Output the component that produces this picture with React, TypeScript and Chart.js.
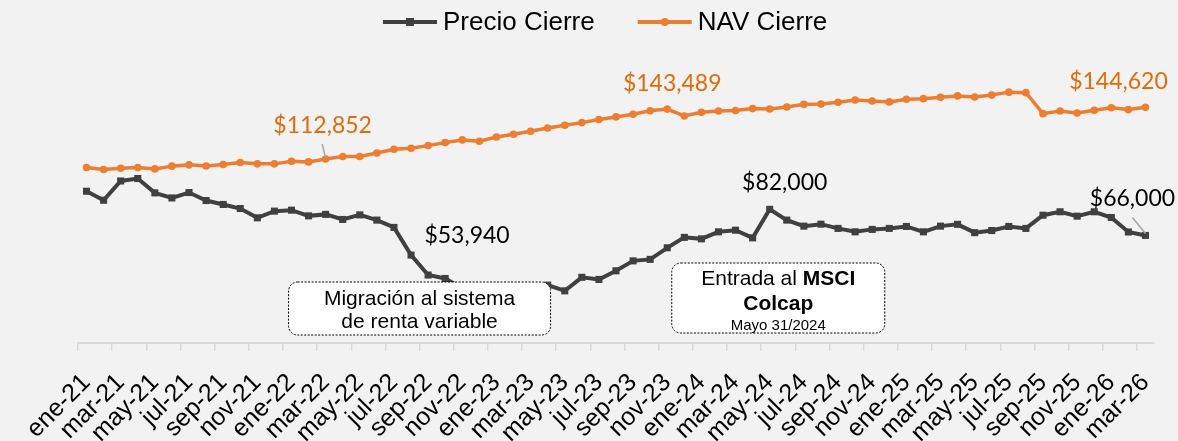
import React, { useEffect, useRef } from 'react';
import { Chart, registerables } from 'chart.js';

Chart.register(...registerables);

// ---------- data ----------
const MONTHS = ['ene', 'feb', 'mar', 'abr', 'may', 'jun', 'jul', 'ago', 'sep', 'oct', 'nov', 'dic'];
const YEARS = ['21', '22', '23', '24', '25', '26'];
const MONTHS_IN_LAST_YEAR = 3;

const categories: string[] = [];
YEARS.forEach((y, yi) => {
  MONTHS.forEach((m, mi) => {
    if (yi < YEARS.length - 1 || mi < MONTHS_IN_LAST_YEAR) categories.push(`${m}-${y}`);
  });
});

const SERIES_NAMES = ['Precio Cierre', 'NAV Cierre'];

const precioCierre = [
  93100, 87600, 99400, 100900, 92100, 89000, 92300, 87400, 85000, 82500, 76800, 80900,
  81500, 78000, 78900, 75800, 78600, 75400, 70900, 53940, 41700, 39600, 33500, 32500,
  32000, 32500, 33500, 35500, 32000, 40300, 39000, 44300, 50400, 51300, 58400, 64800,
  63900, 68200, 69200, 64500, 82000, 75400, 71700, 72900, 70300, 68200, 69700, 70300,
  71500, 68200, 71700, 72800, 67700, 69000, 71500, 70300, 78400, 80500, 77800, 80500,
  77000, 68100, 66000,
];

const navCierre = [
  107700, 106400, 107200, 107700, 106800, 108500, 109300, 108600, 109500, 110700, 109900, 109900,
  111500, 111100, 112852, 114400, 114400, 116600, 118900, 119500, 121100, 123000, 124600, 123800,
  126400, 128100, 129900, 131900, 133600, 135200, 137100, 138700, 140300, 142500, 143489, 139300,
  141500, 142300, 142600, 143800, 143600, 144800, 146400, 146600, 147700, 149100, 148500, 147900,
  149500, 149900, 150700, 151600, 150900, 152100, 153900, 153600, 140700, 142300, 141100, 142800,
  144300, 143200, 144620,
];

// which points carry a value label
const labeledPrecio = [19, 40, 62];
const labeledNav = [14, 34, 62];

const annotationTexts = [
  [[{ t: 'Migración al sistema', b: false }], [{ t: 'de renta variable', b: false }]],
  [
    [{ t: 'Entrada al ', b: false }, { t: 'MSCI', b: true }],
    [{ t: 'Colcap', b: true }],
    [{ t: 'Mayo 31/2024', b: false, small: true }],
  ],
];

// ---------- styling ----------
const PRECIO_COLOR = '#404040';
const NAV_COLOR = '#ED7D31';
const NAV_LABEL_COLOR = '#E36C0A';
const LEADER_COLOR = '#A6A6A6';
const AXIS_FONT = '"Liberation Sans", Arial, sans-serif';
const LABEL_FONT = 'Lato, "Open Sans", sans-serif';

// label offsets (pixels) relative to the point
const precioLabelStyle: Record<number, { dx: number; dy: number; leader?: number[] }> = {
  19: { dx: 56, dy: -12 },
  40: { dx: 15, dy: -19 },
  62: { dx: -13, dy: -29, leader: [-13, -18, 0, -2] },
};
const navLabelStyle: Record<number, { dx: number; dy: number; leader?: number[] }> = {
  14: { dx: -3, dy: -26, leader: [-3.5, -15, 0, -1] },
  34: { dx: 5, dy: -18 },
  62: { dx: -27, dy: -18 },
};

// annotation boxes: centre at category "index", top/height in px
const annotationBoxes = [
  { index: 19.5, width: 262, top: 282, height: 53, baselines: [23, 46] },
  { index: 40.5, width: 213, top: 263, height: 70, baselines: [22, 46.5, 66.5] },
];

const fmt = (v: number) => '$' + v.toLocaleString('en-US');

function roundRect(ctx: CanvasRenderingContext2D, x: number, y: number, w: number, h: number, r: number) {
  ctx.beginPath();
  ctx.moveTo(x + r, y);
  ctx.lineTo(x + w - r, y);
  ctx.arcTo(x + w, y, x + w, y + r, r);
  ctx.lineTo(x + w, y + h - r);
  ctx.arcTo(x + w, y + h, x + w - r, y + h, r);
  ctx.lineTo(x + r, y + h);
  ctx.arcTo(x, y + h, x, y + h - r, r);
  ctx.lineTo(x, y + r);
  ctx.arcTo(x, y, x + r, y, r);
  ctx.closePath();
}

const decorPlugin = {
  id: 'decor',
  beforeDraw(chart: any) {
    const ctx = chart.ctx as CanvasRenderingContext2D;
    ctx.save();
    ctx.fillStyle = '#F2F2F2';
    ctx.fillRect(0, 0, chart.width, chart.height);
    ctx.restore();
  },
  afterDatasetsDraw(chart: any) {
    const ctx = chart.ctx as CanvasRenderingContext2D;
    const xScale = chart.scales.x;

    // annotation boxes
    annotationBoxes.forEach((box, bi) => {
      const cx = xScale.getPixelForValue(box.index);
      const x = cx - box.width / 2;
      ctx.save();
      roundRect(ctx, x, box.top, box.width, box.height, 9);
      ctx.fillStyle = '#FFFFFF';
      ctx.fill();
      ctx.setLineDash([2, 1.5]);
      ctx.lineWidth = 1;
      ctx.strokeStyle = '#000000';
      ctx.stroke();
      ctx.setLineDash([]);
      ctx.fillStyle = '#000000';
      ctx.textBaseline = 'alphabetic';
      ctx.textAlign = 'left';
      annotationTexts[bi].forEach((line: any[], li: number) => {
        const fontFor = (seg: any) =>
          `${seg.b ? 'bold ' : ''}${seg.small ? 15 : 21}px ${AXIS_FONT}`;
        let total = 0;
        line.forEach((seg) => {
          ctx.font = fontFor(seg);
          total += ctx.measureText(seg.t).width;
        });
        let sx = cx - total / 2;
        line.forEach((seg) => {
          ctx.font = fontFor(seg);
          ctx.fillText(seg.t, sx, box.top + box.baselines[li]);
          sx += ctx.measureText(seg.t).width;
        });
      });
      ctx.restore();
    });

    // value labels
    const drawLabels = (dsIndex: number, idxs: number[], styles: any, color: string) => {
      const meta = chart.getDatasetMeta(dsIndex);
      const data = chart.data.datasets[dsIndex].data as number[];
      idxs.forEach((i) => {
        const el = meta.data[i];
        const st = styles[i];
        ctx.save();
        if (st.leader) {
          ctx.strokeStyle = LEADER_COLOR;
          ctx.lineWidth = 1.5;
          ctx.beginPath();
          ctx.moveTo(el.x + st.leader[0], el.y + st.leader[1]);
          ctx.lineTo(el.x + st.leader[2], el.y + st.leader[3]);
          ctx.stroke();
        }
        ctx.font = `23px ${LABEL_FONT}`;
        ctx.fillStyle = color;
        ctx.textAlign = 'center';
        ctx.textBaseline = 'alphabetic';
        ctx.fillText(fmt(data[i]), el.x + st.dx, el.y + st.dy);
        ctx.restore();
      });
    };
    drawLabels(0, labeledPrecio, precioLabelStyle, '#000000');
    drawLabels(1, labeledNav, navLabelStyle, NAV_LABEL_COLOR);

    // legend
    ctx.save();
    ctx.font = `26px ${AXIS_FONT}`;
    ctx.textBaseline = 'alphabetic';
    ctx.textAlign = 'left';
    let lx = 383;
    const ly = 22;
    chart.data.datasets.forEach((ds: any, di: number) => {
      ctx.strokeStyle = ds.borderColor;
      ctx.lineWidth = 4;
      ctx.beginPath();
      ctx.moveTo(lx, ly);
      ctx.lineTo(lx + 54, ly);
      ctx.stroke();
      ctx.fillStyle = ds.borderColor;
      if (di === 0) {
        ctx.fillRect(lx + 27 - 4, ly - 4, 8, 8);
      } else {
        ctx.beginPath();
        ctx.arc(lx + 27, ly, 4, 0, Math.PI * 2);
        ctx.fill();
      }
      ctx.fillStyle = '#000000';
      ctx.fillText(ds.label, lx + 60, 29.5);
      lx += 60 + ctx.measureText(ds.label).width + 43;
    });
    ctx.restore();
  },
};

export default function App() {
  const canvasRef = useRef<HTMLCanvasElement | null>(null);

  useEffect(() => {
    document.body.style.margin = '0';
    const canvas = canvasRef.current;
    if (!canvas) return;
    const chart = new Chart(canvas, {
      type: 'line',
      data: {
        labels: categories,
        datasets: [
          {
            label: SERIES_NAMES[0],
            data: precioCierre,
            borderColor: PRECIO_COLOR,
            backgroundColor: PRECIO_COLOR,
            borderWidth: 4,
            pointStyle: 'rect',
            pointRadius: 5,
            pointBorderWidth: 0,
            pointBackgroundColor: PRECIO_COLOR,
            tension: 0,
            clip: false,
          },
          {
            label: SERIES_NAMES[1],
            data: navCierre,
            borderColor: NAV_COLOR,
            backgroundColor: NAV_COLOR,
            borderWidth: 3.5,
            pointStyle: 'circle',
            pointRadius: 3.8,
            pointBorderWidth: 0,
            pointBackgroundColor: NAV_COLOR,
            tension: 0,
            clip: false,
          },
        ],
      },
      options: {
        responsive: false,
        animation: false,
        devicePixelRatio: 1,
        layout: { padding: { top: 17, left: 78, right: 24, bottom: 0 } },
        plugins: {
          legend: { display: false },
          tooltip: { enabled: false },
          title: { display: false },
        },
        scales: {
          x: {
            type: 'category',
            offset: true,
            grid: {
              offset: true,
              drawOnChartArea: false,
              drawTicks: true,
              tickLength: 8,
              lineWidth: 1.5,
              color: (c: any) => (c.index % 2 === 0 ? '#D9D9D9' : 'rgba(0,0,0,0)'),
            },
            border: { display: true, color: '#D9D9D9', width: 2 },
            ticks: {
              autoSkip: false,
              maxRotation: 45,
              minRotation: 45,
              padding: 17,
              color: '#000000',
              font: { family: AXIS_FONT, size: 25 },
              callback: (_v: any, i: number) => (i % 2 === 0 ? categories[i] : ''),
            },
            afterFit: (s: any) => {
              s.height = 98;
              s.paddingLeft = 0;
              s.paddingRight = 0;
            },
          },
          y: {
            display: false,
            min: 0,
            max: 200000,
          },
        },
      },
      plugins: [decorPlugin],
    } as any);
    return () => chart.destroy();
  }, []);

  return (
    <div style={{ position: 'fixed', left: 0, top: 0, width: 1178, height: 441, background: '#F2F2F2' }}>
      <canvas ref={canvasRef} width={1178} height={441} style={{ display: 'block' }} />
    </div>
  );
}
